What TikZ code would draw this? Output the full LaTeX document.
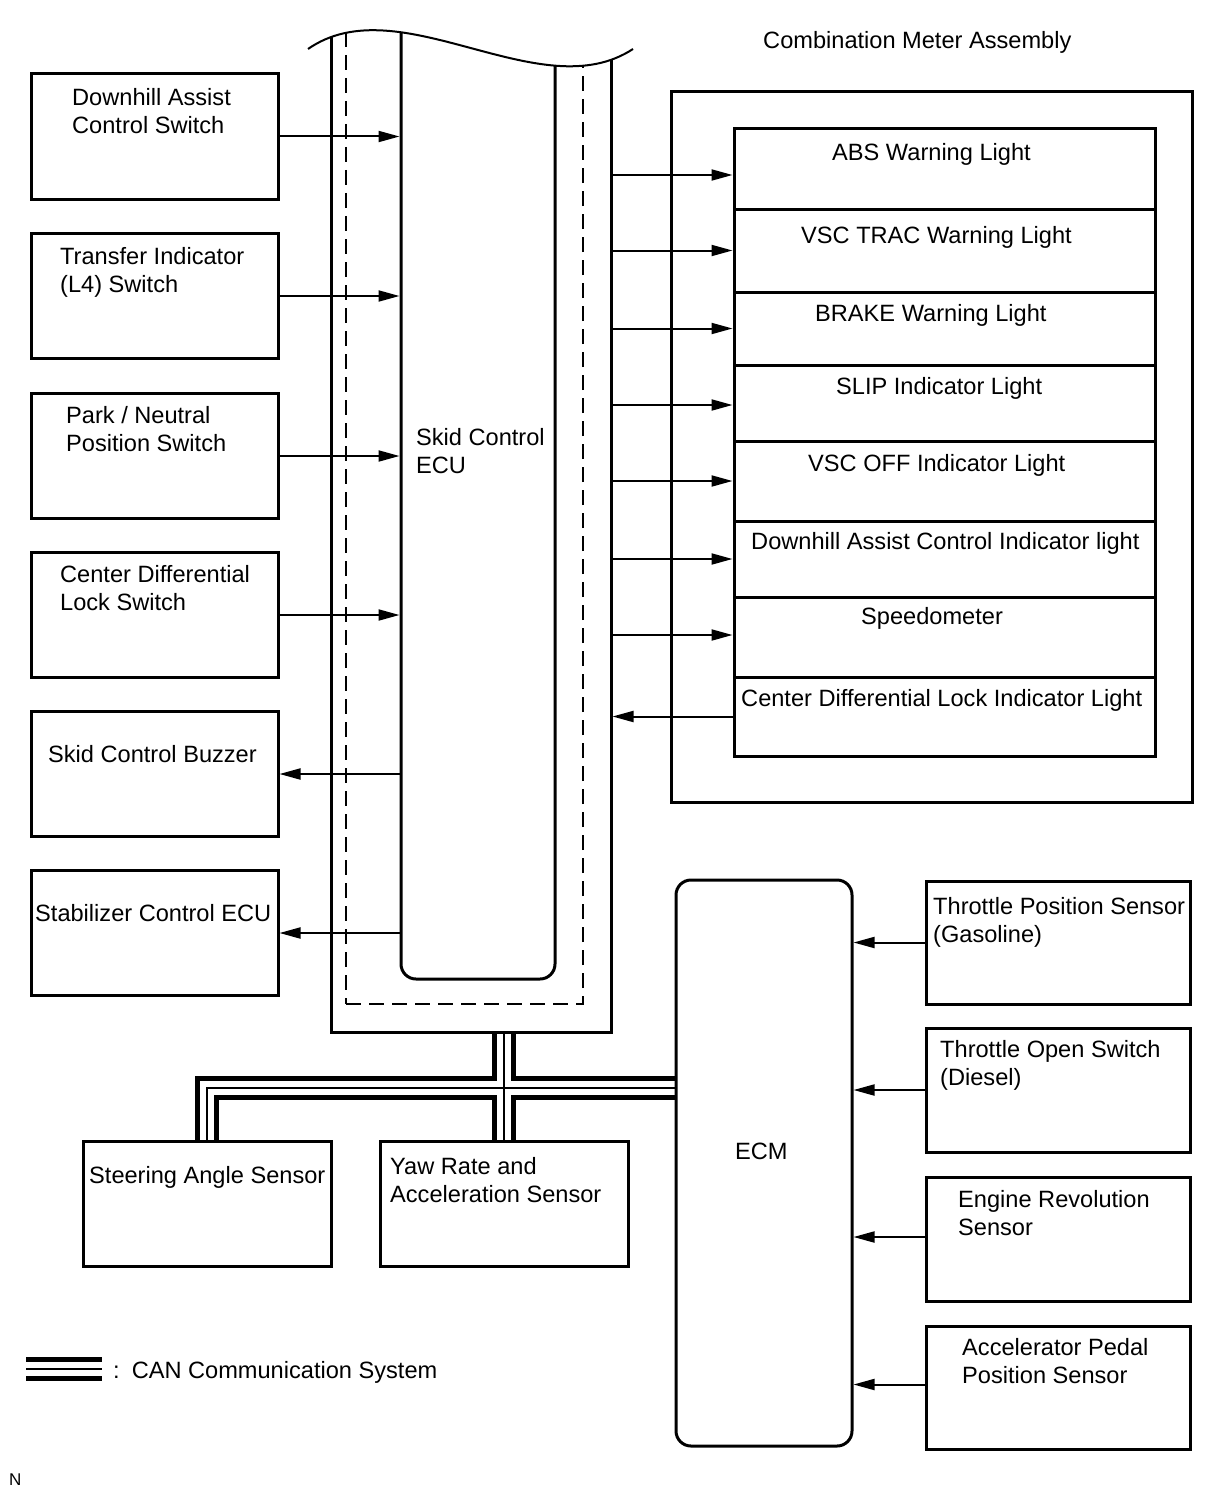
\documentclass[tikz,border=0pt]{standalone}
\usepackage{fontspec}
\setmainfont{Liberation Sans}
\usetikzlibrary{arrows.meta}
\pgfdeclarelayer{bg}
\pgfsetlayers{bg,main}
\begin{document}
\begin{tikzpicture}[x=1pt,y=-1pt,
  box/.style={draw, line width=3pt, inner sep=0pt},
  txt/.style={anchor=north west, inner sep=0pt, align=left, font=\fontsize{23.6}{28}\selectfont},
  arr/.style={line width=2pt, -{Triangle[length=21pt,width=11pt]}},
  dashbox/.style={draw, line width=2pt, dash pattern=on 15pt off 8pt, inner sep=0pt},
]
\useasboundingbox (0,0) rectangle (1210,1498);

% ---------- Skid Control ECU (cut by wavy line) ----------
\begin{scope}
  \clip (296,49) -- (308,49) .. controls (400,-15) and (540,110) .. (633,49) -- (645,49) -- (645,1100) -- (296,1100) -- cycle;
  \node[box, minimum width=280pt, minimum height=1082pt] (ecuo) at (471,491) {};
  \node[dashbox, minimum width=237pt, minimum height=1054pt] (ecud) at (464.5,477) {};
  \node[box, rounded corners=15pt, minimum width=154pt, minimum height=1029pt] (ecu) at (478,464.5) {};
\end{scope}
\draw[line width=2pt] (308,49) .. controls (400,-15) and (540,110) .. (633,49);
\node[txt] (ecut) at (416,428) {Skid Control\\ECU};

% ---------- Left boxes ----------
\node[box, minimum width=247pt, minimum height=125pt] (dac) at (154.5,136.5) {};
\node[box, minimum width=247pt, minimum height=125pt] (tis) at (154.5,296) {};
\node[box, minimum width=247pt, minimum height=125pt] (pnp) at (154.5,456) {};
\node[box, minimum width=247pt, minimum height=125pt] (cdl) at (154.5,615) {};
\node[box, minimum width=247pt, minimum height=125pt] (buz) at (154.5,774) {};
\node[box, minimum width=247pt, minimum height=125pt] (stab) at (154.5,933) {};
\node[txt] at (72,88) {Downhill Assist\\Control Switch};
\node[txt] at (60,247) {Transfer Indicator\\(L4) Switch};
\node[txt] at (66,406) {Park / Neutral\\Position Switch};
\node[txt] at (60,565) {Center Differential\\Lock Switch};
\node[txt] at (48,745) {Skid Control Buzzer};
\node[txt] at (35,904) {Stabilizer Control ECU};

\draw[arr] (dac.east) -- (dac.east -| ecu.west);
\draw[arr] (tis.east) -- (tis.east -| ecu.west);
\draw[arr] (pnp.east) -- (pnp.east -| ecu.west);
\draw[arr] (cdl.east) -- (cdl.east -| ecu.west);
\draw[arr] (buz.east -| ecu.west) -- (buz.east);
\draw[arr] (stab.east -| ecu.west) -- (stab.east);

% ---------- Combination meter ----------
\node[txt] (cmat) at (763,31) {Combination Meter Assembly};
\node[box, minimum width=521pt, minimum height=710pt] (cma) at (931.5,447) {};
\node[box, minimum width=421pt, minimum height=80pt] (r1) at (944.5,169) {};
\node[box, minimum width=421pt, minimum height=83pt] (r2) at (944.5,250.5) {};
\node[box, minimum width=421pt, minimum height=73pt] (r3) at (944.5,328.5) {};
\node[box, minimum width=421pt, minimum height=76pt] (r4) at (944.5,403) {};
\node[box, minimum width=421pt, minimum height=80pt] (r5) at (944.5,481) {};
\node[box, minimum width=421pt, minimum height=76pt] (r6) at (944.5,559) {};
\node[box, minimum width=421pt, minimum height=80pt] (r7) at (944.5,637) {};
\node[box, minimum width=421pt, minimum height=79pt] (r8) at (944.5,716.5) {};
\node[txt] at (832,143) {ABS Warning Light};
\node[txt] at (801,226) {VSC TRAC Warning Light};
\node[txt] at (815,304) {BRAKE Warning Light};
\node[txt] at (836,377) {SLIP Indicator Light};
\node[txt] at (808,454) {VSC OFF Indicator Light};
\node[txt] at (751,532) {Downhill Assist Control Indicator light};
\node[txt] at (861,607) {Speedometer};
\node[txt] at (741,689) {Center Differential Lock Indicator Light};

\coordinate (a1) at ([yshift=-6pt]r1.west);
\coordinate (a4) at ([yshift=-2pt]r4.west);
\coordinate (a7) at ([yshift=2pt]r7.west);
\draw[arr] (ecuo.east |- a1) -- (a1);
\draw[arr] (ecuo.east |- r2.west) -- (r2.west);
\draw[arr] (ecuo.east |- r3.west) -- (r3.west);
\draw[arr] (ecuo.east |- a4) -- (a4);
\draw[arr] (ecuo.east |- r5.west) -- (r5.west);
\draw[arr] (ecuo.east |- r6.west) -- (r6.west);
\draw[arr] (ecuo.east |- a7) -- (a7);
\draw[arr] (r8.west) -- (ecuo.east |- r8.west);

% ---------- ECM and sensors ----------
\node[box, rounded corners=15pt, minimum width=176pt, minimum height=566pt] (ecm) at (764,1163) {};
\node[txt] at (735,1143) {ECM};
\node[box, minimum width=264pt, minimum height=123pt] (tps) at (1058,942.5) {};
\node[box, minimum width=264pt, minimum height=124pt] (tos) at (1058,1090) {};
\node[box, minimum width=264pt, minimum height=124pt] (ers) at (1058,1239) {};
\node[box, minimum width=264pt, minimum height=123pt] (apps) at (1058,1387.5) {};
\node[txt] at (933,897) {Throttle Position Sensor\\(Gasoline)};
\node[txt] at (940,1040) {Throttle Open Switch\\(Diesel)};
\node[txt] at (958,1190) {Engine Revolution\\Sensor};
\node[txt] at (962,1338) {Accelerator Pedal\\Position Sensor};
\coordinate (s3) at ([yshift=2pt]ers.west);
\coordinate (s4) at ([yshift=3pt]apps.west);
\draw[arr] (tps.west) -- (tps.west -| ecm.east);
\draw[arr] (tos.west) -- (tos.west -| ecm.east);
\draw[arr] (s3) -- (s3 -| ecm.east);
\draw[arr] (s4) -- (s4 -| ecm.east);

% ---------- Bottom sensors ----------
\node[box, minimum width=248pt, minimum height=125pt] (sas) at (207,1203.5) {};
\node[box, minimum width=248pt, minimum height=125pt] (yaw) at (504,1203.5) {};
\node[txt] at (89,1166) {Steering Angle Sensor};
\node[txt] at (390,1157) {Yaw Rate and\\Acceleration Sensor};

% ---------- CAN bus ----------
\coordinate (canj) at (504,1088);
\coordinate (lg1) at (26,1369);
\coordinate (lg2) at (102,1369);
\begin{pgfonlayer}{bg}
\foreach \w/\c in {24/black,14/white,1.6/black}{
  \draw[line width=\w pt, draw=\c] (ecuo.south -| yaw.north) -- (yaw.north);
  \draw[line width=\w pt, draw=\c] (sas.north) |- (canj) -- (canj -| ecm.west);
  \draw[line width=\w pt, draw=\c] (lg1) -- (lg2);
}
\end{pgfonlayer}
\node[txt] (legt) at (113,1361) {:\hspace{12pt}CAN Communication System};
\node[anchor=north west, inner sep=0pt, font=\fontsize{17}{20}\selectfont] (nmark) at (9,1474) {N};
\end{tikzpicture}
\end{document}
